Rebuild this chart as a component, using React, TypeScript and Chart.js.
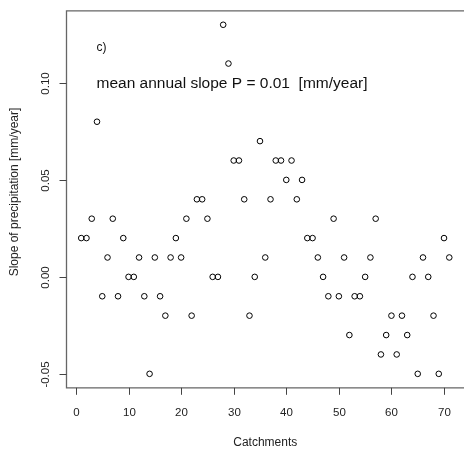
import React, { useEffect, useRef } from "react";
import { Chart, registerables } from "chart.js";

Chart.register(...registerables);

const catchments = [
  1, 2, 3, 4, 5, 6, 7, 8, 9, 10, 11, 12, 13, 14, 15, 16, 17, 18, 19, 20,
  21, 22, 23, 24, 25, 26, 27, 28, 29, 30, 31, 32, 33, 34, 35, 36, 37, 38, 39, 40,
  41, 42, 43, 44, 45, 46, 47, 48, 49, 50, 51, 52, 53, 54, 55, 56, 57, 58, 59, 60,
  61, 62, 63, 64, 65, 66, 67, 68, 69, 70, 71,
];

const slopes = [
  0.02, 0.02, 0.03, 0.08, -0.01, 0.01, 0.03, -0.01, 0.02, 0.0,
  0.0, 0.01, -0.01, -0.05, 0.01, -0.01, -0.02, 0.01, 0.02, 0.01,
  0.03, -0.02, 0.04, 0.04, 0.03, 0.0, 0.0, 0.13, 0.11, 0.06,
  0.06, 0.04, -0.02, 0.0, 0.07, 0.01, 0.04, 0.06, 0.06, 0.05,
  0.06, 0.04, 0.05, 0.02, 0.02, 0.01, 0.0, -0.01, 0.03, -0.01,
  0.01, -0.03, -0.01, -0.01, 0.0, 0.01, 0.03, -0.04, -0.03, -0.02,
  -0.04, -0.02, -0.03, 0.0, -0.05, 0.01, 0.0, -0.02, -0.05, 0.02,
  0.01,
];

const xTicks = [0, 10, 20, 30, 40, 50, 60, 70];
const yTicks = [-0.05, 0.0, 0.05, 0.1];
const yTickLabels = ["-0.05", "0.00", "0.05", "0.10"];

const panelLabel = "c)";
const annotation = "mean annual slope P = 0.01  [mm/year]";
const xTitle = "Catchments";
const yTitle = "Slope of precipitation [mm/year]";

const FONT = '"Liberation Sans", Arial, sans-serif';

const rAxisPlugin = {
  id: "rAxis",
  afterDraw(chart: any) {
    const ctx = chart.ctx as CanvasRenderingContext2D;
    const { left, right, top, bottom } = chart.chartArea;
    const xs = chart.scales.x;
    const ys = chart.scales.y;
    ctx.save();
    // box (top, left, bottom) - right side lies beyond the canvas edge
    ctx.strokeStyle = "#666";
    ctx.lineWidth = 1.3;
    ctx.beginPath();
    ctx.moveTo(right + 10, top);
    ctx.lineTo(left, top);
    ctx.lineTo(left, bottom);
    ctx.lineTo(right + 10, bottom);
    ctx.stroke();

    // x ticks
    ctx.strokeStyle = "#444";
    ctx.lineWidth = 1;
    ctx.fillStyle = "#222";
    ctx.font = `11.5px ${FONT}`;
    ctx.textAlign = "center";
    ctx.textBaseline = "middle";
    xTicks.forEach((v) => {
      const px = Math.round(xs.getPixelForValue(v)) + 0.5;
      ctx.beginPath();
      ctx.moveTo(px, bottom);
      ctx.lineTo(px, bottom + 7);
      ctx.stroke();
      ctx.fillText(String(v), px, bottom + 25);
    });

    // y ticks
    yTicks.forEach((v, i) => {
      const py = Math.round(ys.getPixelForValue(v)) + 0.5;
      ctx.beginPath();
      ctx.moveTo(left, py);
      ctx.lineTo(left - 7, py);
      ctx.stroke();
      ctx.save();
      ctx.translate(left - 21, py);
      ctx.rotate(-Math.PI / 2);
      ctx.fillText(yTickLabels[i], 0, 0);
      ctx.restore();
    });

    // axis titles
    ctx.font = `12px ${FONT}`;
    ctx.fillStyle = "#222";
    ctx.fillText(xTitle, (left + right) / 2, 443);
    ctx.save();
    ctx.translate(15, 192);
    ctx.rotate(-Math.PI / 2);
    ctx.fillText(yTitle, 0, 0);
    ctx.restore();

    // annotations
    ctx.textAlign = "left";
    ctx.textBaseline = "alphabetic";
    ctx.font = `12px ${FONT}`;
    ctx.fillStyle = "#111";
    ctx.fillText(panelLabel, 96.5, 51);
    ctx.font = `15.5px ${FONT}`;
    ctx.fillText(annotation, 96.5, 88);
    ctx.restore();
  },
};

export default function App() {
  const canvasRef = useRef<HTMLCanvasElement | null>(null);

  useEffect(() => {
    const canvas = canvasRef.current;
    if (!canvas) return;
    const chart = new Chart(canvas, {
      type: "scatter",
      data: {
        datasets: [
          {
            data: catchments.map((c, i) => ({ x: c, y: slopes[i] })),
            pointRadius: 2.8,
            pointBorderWidth: 1,
            pointBorderColor: "#000",
            pointBackgroundColor: "rgba(0,0,0,0)",
            pointStyle: "circle",
            clip: false,
          },
        ],
      },
      options: {
        responsive: false,
        animation: false,
        devicePixelRatio: 1,
        layout: {
          autoPadding: false,
          padding: { left: 66.5, top: 10.8, right: 0, bottom: 65.2 },
        },
        plugins: {
          legend: { display: false },
          tooltip: { enabled: false },
          title: { display: false },
        },
        scales: {
          x: {
            type: "linear",
            display: false,
            min: -1.8,
            max: 73.8,
          },
          y: {
            type: "linear",
            display: false,
            min: -0.0572,
            max: 0.1372,
          },
        },
      },
      plugins: [rAxisPlugin],
    });
    return () => chart.destroy();
  }, []);

  return (
    <div style={{ position: "fixed", left: 0, top: 0, width: 464, height: 453, background: "#fff" }}>
      <canvas ref={canvasRef} width={464} height={453} style={{ display: "block" }} />
    </div>
  );
}
